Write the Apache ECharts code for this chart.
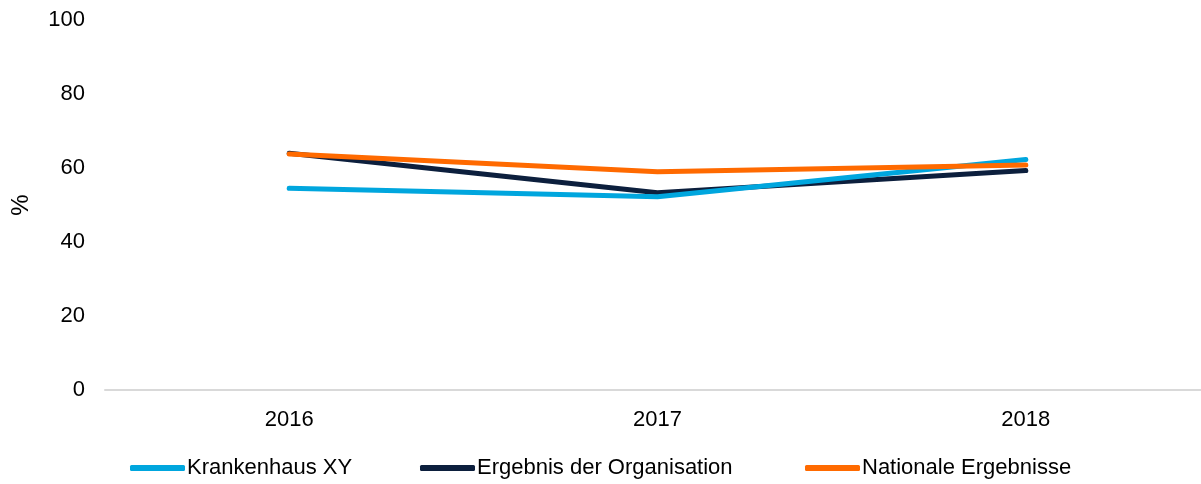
<!DOCTYPE html>
<html><head><meta charset="utf-8">
<script src="https://cdn.jsdelivr.net/npm/echarts@6/dist/echarts.min.js"></script>
<style>html,body{margin:0;padding:0;background:#fff}#c{width:1201px;height:484px}</style>
</head><body><div id="c"></div>
<script>
const categories = ['2016', '2017', '2018'];
const seriesNames = ['Krankenhaus XY', 'Ergebnis der Organisation', 'Nationale Ergebnisse'];
const krankenhaus = [54.5, 52.2, 62.3];
const organisation = [64.0, 53.3, 59.3];
const national = [63.8, 59.0, 60.8];
const colors = ['#00A6DE', '#0C1F3D', '#FF6A00'];

const chart = echarts.init(document.getElementById('c'));
const font = 'Liberation Sans, Arial, sans-serif';
const mk = (name, data, color, z) => ({
  name, type: 'line', data, symbol: 'none', z,
  lineStyle: { color, width: 5, cap: 'round', join: 'round' },
  itemStyle: { color }
});
const legendLefts = [125, 415, 800];
const legends = seriesNames.map((n, i) => ({
  bottom: 0, left: legendLefts[i],
  itemWidth: 55, itemHeight: 6,
  icon: 'roundRect',
  textStyle: { fontFamily: font, fontSize: 22, color: '#000', padding: [0, 0, 0, -3] },
  data: [n]
}));
chart.setOption({
  animation: false,
  textStyle: { fontFamily: font },
  grid: { left: 105, top: 20, width: 1105, height: 370, outerBoundsMode: 'none', containLabel: false },
  legend: legends,
  xAxis: {
    type: 'category', data: categories, boundaryGap: true,
    axisLine: { lineStyle: { color: '#d9d9d9', width: 2 } },
    axisTick: { show: false },
    axisLabel: { fontSize: 22, color: '#000', margin: 19, fontFamily: font }
  },
  yAxis: {
    type: 'value', min: 0, max: 100, interval: 20,
    name: '%', nameLocation: 'middle', nameGap: 72, nameRotate: 90,
    nameTextStyle: { fontSize: 24, color: '#000', fontFamily: font },
    axisLine: { show: false }, axisTick: { show: false },
    splitLine: { show: false },
    axisLabel: { fontSize: 22, color: '#000', margin: 20, fontFamily: font }
  },
  series: [
    mk(seriesNames[0], krankenhaus, colors[0], 3),
    mk(seriesNames[1], organisation, colors[1], 2),
    mk(seriesNames[2], national, colors[2], 4)
  ]
});
</script></body></html>
